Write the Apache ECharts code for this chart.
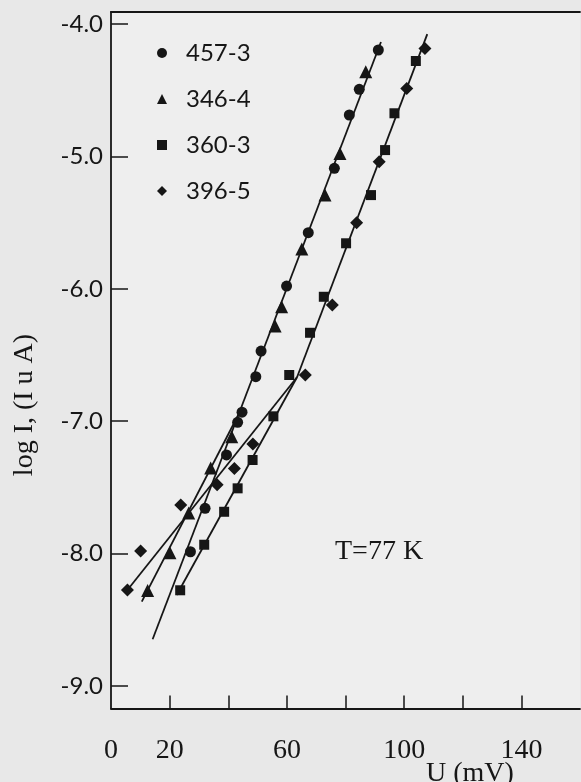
<!DOCTYPE html>
<html>
<head>
<meta charset="utf-8">
<script src="https://cdn.jsdelivr.net/npm/echarts@6/dist/echarts.min.js"></script>
<style>
  html, body { margin: 0; padding: 0; background: #e8e8e8; }
  #chart { width: 581px; height: 782px; }
</style>
</head>
<body>
<div id="chart"></div>
<script>
// Diode samples, forward current vs. bias at T = 77 K
const sampleNames = ['457-3', '346-4', '360-3', '396-5'];

// [U (mV), log I]
const s457_3 = [[91.2, -4.196], [84.7, -4.493], [81.3, -4.687], [76.2, -5.090], [67.3, -5.576],
  [59.9, -5.979], [51.2, -6.470], [49.4, -6.664], [44.7, -6.932], [43.2, -7.008],
  [39.4, -7.255], [32.1, -7.658], [27.1, -7.986]];
const s346_4 = [[86.9, -4.360], [78.1, -4.977], [73.0, -5.292], [65.1, -5.699], [58.2, -6.135],
  [56.0, -6.281], [41.2, -7.117], [34.0, -7.353], [26.5, -7.693], [20.1, -7.993], [12.5, -8.279]];
const s360_3 = [[104.0, -4.279], [96.7, -4.674], [93.5, -4.952], [88.7, -5.292], [80.2, -5.656],
  [72.6, -6.060], [67.9, -6.332], [60.8, -6.651], [55.4, -6.963], [48.3, -7.293],
  [43.2, -7.507], [38.6, -7.684], [31.8, -7.933], [23.6, -8.277]];
const s396_5 = [[107.1, -4.184], [100.9, -4.486], [91.5, -5.040], [83.8, -5.501], [75.5, -6.122],
  [66.3, -6.651], [48.4, -7.172], [42.1, -7.357], [36.2, -7.480], [23.8, -7.633],
  [10.1, -7.980], [5.6, -8.275]];

// straight-line fits (end points)
const fitUpperLeft = [[14.2, -8.647], [92.1, -4.136]];
const fitLow346 = [[10.5, -8.363], [43.8, -6.936]];
const fitLow396 = [[5.6, -8.275], [63.5, -6.666]];
const fitLow360 = [[22.4, -8.313], [63.5, -6.666]];
const fitUpperRight = [[63.5, -6.666], [107.9, -4.076]];

const yTicks = [-4, -5, -6, -7, -8, -9];
const xTicks = [20, 40, 60, 80, 100, 120, 140];
const xLabels = [0, 20, 60, 100, 140];

const ink = '#161616';
const serif = '"Liberation Serif", "DejaVu Serif", serif';
const sans = 'Lato, "Open Sans", sans-serif';

const chart = echarts.init(document.getElementById('chart'), null, { renderer: 'canvas' });

const markerSeries = (name, data, symbol, size) => ({
  name, type: 'scatter', data, symbol, symbolSize: size,
  itemStyle: { color: ink, opacity: 1 }, z: 5, silent: true
});
const fitSeries = (data) => ({
  type: 'line', data, symbol: 'none', silent: true,
  lineStyle: { color: ink, width: 1.8 }, z: 3
});

chart.setOption({
  backgroundColor: '#e8e8e8',
  animation: false,
  grid: {
    left: 111, top: 12, right: 1, bottom: 73.5,
    show: true, backgroundColor: '#eeeeee', borderWidth: 0
  },
  legend: {
    data: sampleNames,
    orient: 'vertical',
    left: 152, top: 36,
    itemWidth: 10, itemHeight: 10, itemGap: 22,
    selectedMode: false,
    textStyle: { fontFamily: sans, fontSize: 24, color: ink, lineHeight: 24, padding: [0, 0, 0, 14] }
  },
  xAxis: [{
    type: 'value', min: 0, max: 160, interval: 20,
    axisLine: { show: true, lineStyle: { color: ink, width: 1.8 } },
    axisTick: { show: true, inside: true, length: 13, customValues: xTicks, lineStyle: { color: ink, width: 1.5 } },
    axisLabel: { customValues: xLabels, fontFamily: serif, fontSize: 28, color: ink, margin: 28 },
    splitLine: { show: false }
  }, {
    type: 'value', position: 'top', min: 0, max: 160,
    axisLine: { show: true, lineStyle: { color: ink, width: 1.8 } },
    axisTick: { show: false }, axisLabel: { show: false }, splitLine: { show: false }
  }],
  yAxis: {
    type: 'value', min: -9.170, max: -3.909,
    axisLine: { show: true, lineStyle: { color: ink, width: 1.8 } },
    axisTick: { show: true, inside: true, length: 17, customValues: yTicks, lineStyle: { color: ink, width: 1.5 } },
    axisLabel: {
      customValues: yTicks, fontFamily: sans, fontSize: 24, color: ink, margin: 8,
      formatter: v => v.toFixed(1)
    },
    splitLine: { show: false }
  },
  graphic: [
    {
      type: 'text', x: 25, y: 405, rotation: Math.PI / 2, silent: true,
      style: { text: 'log I, (I u A)', fontFamily: serif, fontSize: 28, fill: ink, align: 'center', verticalAlign: 'middle' }
    },
    {
      type: 'text', x: 335, y: 552, silent: true,
      style: { text: 'T=77 K', fontFamily: serif, fontSize: 28, fill: ink, align: 'left', verticalAlign: 'middle' }
    },
    {
      type: 'text', x: 426, y: 774, silent: true,
      style: { text: 'U (mV)', fontFamily: serif, fontSize: 28, fill: ink, align: 'left', verticalAlign: 'middle' }
    }
  ],
  series: [
    fitSeries(fitUpperLeft),
    fitSeries(fitLow346),
    fitSeries(fitLow396),
    fitSeries(fitLow360),
    fitSeries(fitUpperRight),
    markerSeries('457-3', s457_3, 'circle', 11),
    markerSeries('346-4', s346_4, 'triangle', 13),
    markerSeries('360-3', s360_3, 'rect', 10),
    markerSeries('396-5', s396_5, 'diamond', 13)
  ]
});
</script>
</body>
</html>
